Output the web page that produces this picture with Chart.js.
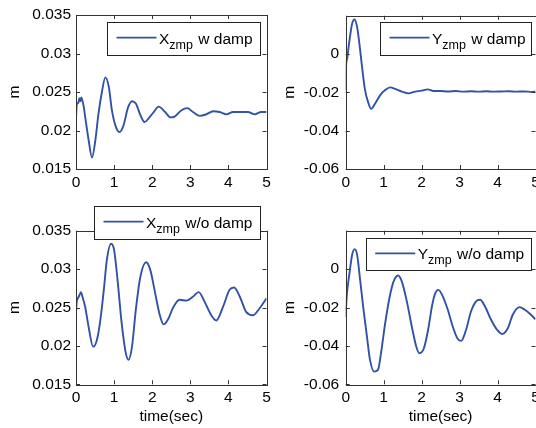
<!DOCTYPE html>
<html>
<head>
<meta charset="utf-8">
<title>ZMP response</title>
<script src="https://cdn.jsdelivr.net/npm/chart.js@4.4.1/dist/chart.umd.min.js"></script>
<style>
    html, body { margin: 0; padding: 0; background: #fff; }
    body { width: 536px; height: 428px; overflow: hidden; position: relative; }
    canvas { position: absolute; left: 0; top: 0; }
</style>
</head>
<body>
<canvas id="xDampChart" width="560" height="428"></canvas>
<canvas id="yDampChart" width="560" height="428"></canvas>
<canvas id="xNoDampChart" width="560" height="428"></canvas>
<canvas id="yNoDampChart" width="560" height="428"></canvas>
<script>
// time (sec) / value (m)
const xDampTime = [0, 0.02, 0.06, 0.09, 0.11, 0.14, 0.16, 0.2, 0.24, 0.33, 0.42, 0.51, 0.59, 0.68, 0.77, 0.86, 0.94, 1.03, 1.14, 1.25, 1.36, 1.47, 1.57, 1.69, 1.8, 1.91, 2.04, 2.17, 2.34, 2.48, 2.59, 2.76, 2.92, 3.07, 3.25, 3.42, 3.6, 3.77, 3.95, 4.12, 4.3, 4.51, 4.69, 4.86, 5.0];
const xDampVals = [0.0215, 0.0234, 0.0236, 0.0242, 0.0238, 0.0243, 0.024, 0.0232, 0.0218, 0.0188, 0.0165, 0.0188, 0.0222, 0.025, 0.0269, 0.0257, 0.0227, 0.0207, 0.0198, 0.0207, 0.0229, 0.0238, 0.0235, 0.022, 0.0211, 0.0216, 0.0224, 0.0231, 0.0224, 0.0217, 0.0218, 0.0226, 0.0229, 0.0224, 0.0219, 0.0221, 0.0225, 0.0224, 0.0221, 0.0224, 0.0224, 0.0224, 0.0221, 0.0224, 0.0224];

const yDampTime = [0, 0.01, 0.03, 0.1, 0.17, 0.23, 0.3, 0.36, 0.43, 0.51, 0.6, 0.67, 0.78, 0.91, 1.04, 1.17, 1.3, 1.48, 1.65, 1.83, 2.0, 2.16, 2.31, 2.49, 2.7, 2.9, 3.1, 3.3, 3.5, 3.7, 3.9, 4.1, 4.3, 4.5, 4.7, 4.9, 5.0];
const yDampVals = [-0.0188, -0.006, -0.0031, 0.0073, 0.016, 0.0181, 0.0142, 0.0056, -0.0066, -0.0188, -0.0257, -0.0286, -0.0257, -0.0214, -0.0188, -0.0174, -0.0182, -0.0196, -0.0205, -0.0196, -0.0191, -0.0184, -0.0193, -0.0193, -0.0195, -0.0193, -0.0196, -0.0194, -0.0196, -0.0194, -0.0196, -0.0195, -0.0194, -0.0196, -0.0195, -0.0197, -0.0195];

const xNoDampTime = [0, 0.02, 0.05, 0.09, 0.13, 0.17, 0.24, 0.33, 0.45, 0.55, 0.64, 0.73, 0.81, 0.92, 1.0, 1.09, 1.2, 1.31, 1.38, 1.47, 1.57, 1.69, 1.84, 1.95, 2.08, 2.19, 2.3, 2.43, 2.54, 2.72, 2.9, 3.07, 3.22, 3.38, 3.55, 3.68, 3.86, 4.03, 4.15, 4.3, 4.47, 4.65, 4.82, 5.0];
const xNoDampVals = [0.0243, 0.0258, 0.0262, 0.0266, 0.027, 0.0264, 0.0251, 0.0225, 0.0199, 0.0208, 0.0234, 0.0273, 0.0312, 0.0333, 0.0325, 0.0286, 0.0229, 0.019, 0.0182, 0.0199, 0.0247, 0.029, 0.0309, 0.0299, 0.0268, 0.0242, 0.0228, 0.0236, 0.0249, 0.026, 0.0259, 0.0264, 0.027, 0.0257, 0.024, 0.0233, 0.0251, 0.0273, 0.0276, 0.0264, 0.0244, 0.024, 0.0249, 0.0262];

const yNoDampTime = [0, 0.01, 0.03, 0.1, 0.17, 0.24, 0.3, 0.38, 0.47, 0.56, 0.64, 0.75, 0.85, 0.93, 1.04, 1.16, 1.26, 1.38, 1.48, 1.62, 1.75, 1.86, 1.94, 2.06, 2.17, 2.28, 2.36, 2.44, 2.56, 2.69, 2.82, 2.94, 3.04, 3.17, 3.3, 3.43, 3.54, 3.67, 3.83, 3.99, 4.12, 4.27, 4.4, 4.58, 4.72, 4.88, 5.0];
const yNoDampVals = [-0.025, -0.02, -0.0134, -0.0021, 0.0075, 0.0104, 0.0075, -0.0056, -0.0212, -0.0352, -0.0473, -0.0534, -0.0525, -0.0438, -0.0282, -0.0143, -0.0065, -0.0033, -0.0065, -0.0177, -0.0308, -0.0404, -0.0438, -0.0412, -0.0317, -0.0186, -0.0125, -0.0108, -0.0143, -0.0212, -0.0299, -0.036, -0.0374, -0.0317, -0.0221, -0.0169, -0.016, -0.0195, -0.0264, -0.0317, -0.0338, -0.0308, -0.0238, -0.0198, -0.0212, -0.0238, -0.0261];

const timeTicks = [0, 1, 2, 3, 4, 5];
const xTicks = [0.015, 0.02, 0.025, 0.03, 0.035];
const yTicks = [-0.06, -0.04, -0.02, 0];

const legendLabels = [
    { main: "X", sub: "zmp", rest: " w damp" },
    { main: "Y", sub: "zmp", rest: " w damp" },
    { main: "X", sub: "zmp", rest: " w/o damp" },
    { main: "Y", sub: "zmp", rest: " w/o damp" }
];

const FONT = "'Liberation Sans', Arial, sans-serif";
const LINE_COLOR = "#3152a6";

// MATLAB style box with inward ticks on every side
const boxAxesPlugin = {
    id: "boxAxes",
    afterDatasetsDraw(chart) {
        const { ctx, chartArea: a, scales } = chart;
        const len = 4;
        ctx.save();
        ctx.strokeStyle = "#333";
        ctx.lineWidth = 1;
        ctx.beginPath();
        scales.x.ticks.forEach(t => {
            const px = Math.round(scales.x.getPixelForValue(t.value)) + 0.5;
            ctx.moveTo(px, a.bottom); ctx.lineTo(px, a.bottom - len);
            ctx.moveTo(px, a.top); ctx.lineTo(px, a.top + len);
        });
        scales.y.ticks.forEach(t => {
            const py = Math.round(scales.y.getPixelForValue(t.value)) + 0.5;
            ctx.moveTo(a.left, py); ctx.lineTo(a.left + len, py);
            ctx.moveTo(a.right, py); ctx.lineTo(a.right - len, py);
        });
        ctx.stroke();
        ctx.strokeRect(Math.round(a.left) + 0.5, Math.round(a.top) + 0.5,
            Math.round(a.right - a.left), Math.round(a.bottom - a.top));
        ctx.restore();
    }
};

// legend with subscript text, drawn as a boxed label
const zmpLegendPlugin = {
    id: "zmpLegend",
    afterDraw(chart, args, opts) {
        if (!opts.box) return;
        const { ctx } = chart;
        const [x, y, w, h] = opts.box;
        ctx.save();
        ctx.fillStyle = "#fff";
        ctx.fillRect(x, y, w, h);
        ctx.strokeStyle = "#222";
        ctx.lineWidth = 1;
        ctx.strokeRect(Math.round(x) + 0.5, Math.round(y) + 0.5, Math.round(w), Math.round(h));

        ctx.strokeStyle = LINE_COLOR;
        ctx.lineWidth = 1.8;
        ctx.beginPath();
        ctx.moveTo(x + 9.5, y + 15.7);
        ctx.lineTo(x + 49.5, y + 15.7);
        ctx.stroke();

        ctx.fillStyle = "#000";
        ctx.textBaseline = "alphabetic";
        let tx = x + 52;
        const base = y + 21.5;
        ctx.font = "15.5px " + FONT;
        ctx.fillText(opts.label.main, tx, base);
        tx += ctx.measureText(opts.label.main).width;
        ctx.font = "12.5px " + FONT;
        ctx.fillText(opts.label.sub, tx, base + 5);
        tx += ctx.measureText(opts.label.sub).width + 1;
        ctx.font = "15.5px " + FONT;
        ctx.fillText(opts.label.rest, tx, base);
        ctx.restore();
    }
};

function fmt(v) {
    return String(Number(v.toFixed(4)));
}

function makeChart(id, times, vals, cfg) {
    const ctx = document.getElementById(id).getContext("2d");
    return new Chart(ctx, {
        type: "line",
        data: {
            datasets: [{
                data: times.map((t, i) => ({ x: t, y: vals[i] })),
                borderColor: LINE_COLOR,
                borderWidth: 1.9,
                pointRadius: 0,
                cubicInterpolationMode: "monotone",
                fill: false
            }]
        },
        options: {
            responsive: false,
            animation: false,
            devicePixelRatio: 1,
            layout: { padding: cfg.padding },
            plugins: {
                legend: { display: false },
                tooltip: { enabled: false },
                zmpLegend: { box: cfg.legendBox, label: cfg.label }
            },
            scales: {
                x: {
                    type: "linear",
                    min: 0,
                    max: 5,
                    afterBuildTicks: s => { s.ticks = timeTicks.map(v => ({ value: v })); },
                    afterFit: s => { s.height = cfg.xHeight; },
                    grid: { display: false, drawTicks: false },
                    border: { display: false },
                    ticks: {
                        padding: 4,
                        color: "#000",
                        font: { family: FONT, size: 15.5 },
                        callback: v => fmt(v),
                        maxRotation: 0
                    },
                    title: {
                        display: cfg.showTime,
                        text: "time(sec)",
                        color: "#000",
                        font: { family: FONT, size: 15.5 },
                        padding: { top: 0, bottom: 0 }
                    }
                },
                y: {
                    type: "linear",
                    min: cfg.yMin,
                    max: cfg.yMax,
                    afterBuildTicks: s => { s.ticks = cfg.yTicks.map(v => ({ value: v })); },
                    afterFit: s => { s.width = 76; },
                    grid: { display: false, drawTicks: false },
                    border: { display: false },
                    ticks: {
                        padding: cfg.tickPad,
                        color: "#000",
                        font: { family: FONT, size: 15.5 },
                        callback: v => fmt(v)
                    },
                    title: {
                        display: true,
                        text: "m",
                        color: "#000",
                        font: { family: FONT, size: 15.5 },
                        padding: { top: cfg.titlePad, bottom: 0 }
                    }
                }
            }
        },
        plugins: [boxAxesPlugin, zmpLegendPlugin]
    });
}

makeChart("xDampChart", xDampTime, xDampVals, {
    padding: { left: 0, top: 15, right: 293.5, bottom: 229 },
    xHeight: 30, showTime: false,
    yMin: 0.015, yMax: 0.035, yTicks: xTicks, tickPad: 5, titlePad: 5.7,
    legendBox: [107, 22, 153, 33], label: legendLabels[0]
});

makeChart("yDampChart", yDampTime, yDampVals, {
    padding: { left: 269.7, top: 15, right: 24.5, bottom: 229 },
    xHeight: 30, showTime: false,
    yMin: -0.06, yMax: 0.02, yTicks: yTicks, tickPad: 6.5, titlePad: 11,
    legendBox: [380, 22, 151, 33], label: legendLabels[1]
});

makeChart("xNoDampChart", xNoDampTime, xNoDampVals, {
    padding: { left: 0, top: 230.7, right: 293.5, bottom: 1.7 },
    xHeight: 42, showTime: true,
    yMin: 0.015, yMax: 0.035, yTicks: xTicks, tickPad: 5, titlePad: 5.7,
    legendBox: [94, 206, 166, 33], label: legendLabels[2]
});

makeChart("yNoDampChart", yNoDampTime, yNoDampVals, {
    padding: { left: 269.7, top: 230.7, right: 24.5, bottom: 1.7 },
    xHeight: 42, showTime: true,
    yMin: -0.06, yMax: 0.02, yTicks: yTicks, tickPad: 6.5, titlePad: 11,
    legendBox: [365.7, 237.7, 165.3, 32.3], label: legendLabels[3]
});
</script>
</body>
</html>
